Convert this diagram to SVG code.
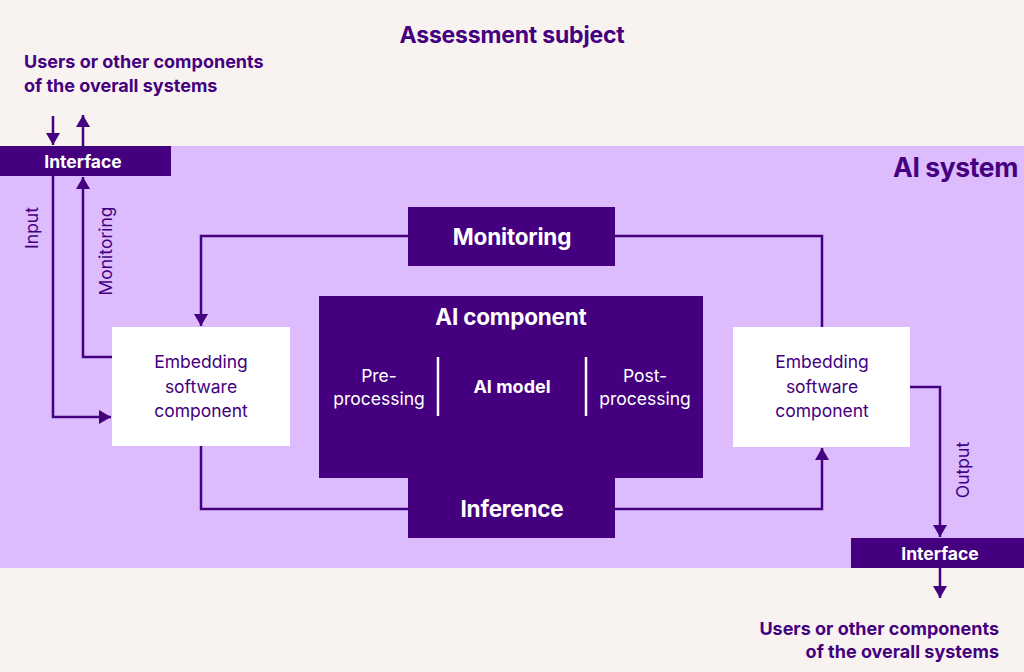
<svg xmlns="http://www.w3.org/2000/svg" width="1024" height="672" viewBox="0 0 1024 672">
<style>
text{font-family:Inter,"Liberation Sans",sans-serif;fill:#44007f}
.b{font-weight:700}
.w{fill:#ffffff}
.dk{fill:#44007f}
.ln{fill:none;stroke:#44007f;stroke-width:2.5}
.emb{fill:#ffffff}
</style>
<defs>
<marker id="ah" viewBox="0 0 12 14" refX="12" refY="7" markerWidth="12" markerHeight="14" markerUnits="userSpaceOnUse" orient="auto">
<path d="M0,0 L12,7 L0,14 z" fill="#44007f"/>
</marker>
</defs>
<rect width="1024" height="672" fill="#f8f3f1"/>
<rect x="0" y="146" width="1024" height="422" fill="#dcbcfc"/>
<text class="b" x="512" y="43" font-size="23" text-anchor="middle" letter-spacing="-0.2">Assessment subject</text>
<text class="b" x="1018" y="177" font-size="26.5" text-anchor="end" letter-spacing="-0.4">AI system</text>
<text class="b" font-size="18"><tspan x="24" y="68">Users or other components</tspan><tspan x="24" y="92">of the overall systems</tspan></text>
<text class="b" font-size="18" text-anchor="end"><tspan x="999" y="635">Users or other components</tspan><tspan x="999" y="658">of the overall systems</tspan></text>

<g id="connectors">
<path class="ln" d="M53,116 V145" marker-end="url(#ah)"/>
<path class="ln" d="M83,146 V115" marker-end="url(#ah)"/>
<path class="ln" d="M53,176 V417 H111" marker-end="url(#ah)"/>
<path class="ln" d="M112,357 H83 V177" marker-end="url(#ah)"/>
<path class="ln" d="M408,236 H201 V326" marker-end="url(#ah)"/>
<path class="ln" d="M615,236 H822 V327"/>
<path class="ln" d="M201,446 V509 H408"/>
<path class="ln" d="M615,509 H822 V448" marker-end="url(#ah)"/>
<path class="ln" d="M910,387 H940 V537" marker-end="url(#ah)"/>
<path class="ln" d="M940,568 V598" marker-end="url(#ah)"/>
<text font-size="17.5" transform="translate(38,228) rotate(-90)" text-anchor="middle">Input</text>
<text font-size="17.5" transform="translate(112,251) rotate(-90)" text-anchor="middle">Monitoring</text>
<text font-size="17.5" transform="translate(969,470) rotate(-90)" text-anchor="middle">Output</text>
</g>

<g id="interface-top">
<rect class="dk" x="0" y="146" width="171" height="30"/>
<text class="b w" x="83" y="167.5" font-size="17.5" text-anchor="middle">Interface</text>
</g>
<g id="interface-bottom">
<rect class="dk" x="851" y="538" width="173" height="30"/>
<text class="b w" x="940" y="560" font-size="17.5" text-anchor="middle">Interface</text>
</g>
<g id="monitoring">
<rect class="dk" x="408" y="207" width="207" height="59"/>
<text class="b w" x="512" y="245" font-size="22.5" text-anchor="middle" letter-spacing="-0.2">Monitoring</text>
</g>
<g id="ai-component">
<rect class="dk" x="319" y="296" width="384" height="182"/>
<text class="b w" x="511" y="325" font-size="22.5" text-anchor="middle" letter-spacing="-0.2">AI component</text>
<line x1="438" y1="357" x2="438" y2="416" stroke="#ffffff" stroke-width="2.5"/>
<line x1="586" y1="357" x2="586" y2="416" stroke="#ffffff" stroke-width="2.5"/>
<text class="w" font-size="17.5" text-anchor="middle"><tspan x="379" y="382">Pre-</tspan><tspan x="379" y="405">processing</tspan></text>
<text class="b w" x="512" y="393" font-size="18" text-anchor="middle">AI model</text>
<text class="w" font-size="17.5" text-anchor="middle"><tspan x="645" y="382">Post-</tspan><tspan x="645" y="405">processing</tspan></text>
</g>
<g id="inference">
<rect class="dk" x="408" y="476" width="207" height="62"/>
<text class="b w" x="512" y="517" font-size="22.5" text-anchor="middle" letter-spacing="-0.2">Inference</text>
</g>
<g id="embedding-left">
<rect class="emb" x="112" y="327" width="178" height="119"/>
<text font-size="17.5" text-anchor="middle"><tspan x="201" y="368">Embedding</tspan><tspan x="201" y="393">software</tspan><tspan x="201" y="417">component</tspan></text>
</g>
<g id="embedding-right">
<rect class="emb" x="733" y="327" width="177" height="120"/>
<text font-size="17.5" text-anchor="middle"><tspan x="822" y="368">Embedding</tspan><tspan x="822" y="393">software</tspan><tspan x="822" y="417">component</tspan></text>
</g>
</svg>
